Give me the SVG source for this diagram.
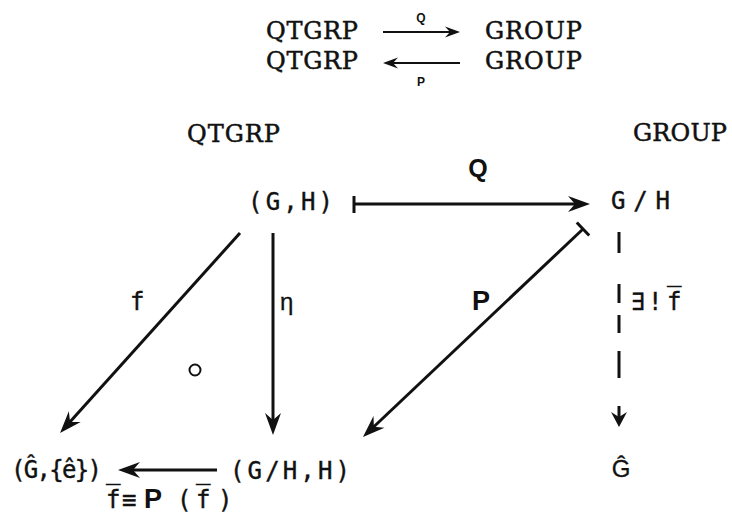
<svg xmlns="http://www.w3.org/2000/svg" width="732" height="518" viewBox="0 0 732 518">
<style>
.serif{font-family:"DejaVu Serif","Liberation Serif",serif;font-size:24px;fill:#111;stroke:#111;stroke-width:0.5}
.mono{font-family:"DejaVu Sans Mono","Liberation Mono",monospace;font-size:24px;fill:#111;stroke:#111;stroke-width:0.4}
.sans{font-family:"Liberation Sans","DejaVu Sans",sans-serif;font-size:24px;fill:#111;stroke:#111;stroke-width:0.3}
.bold{font-family:"Liberation Sans","DejaVu Sans",sans-serif;font-weight:bold;fill:#111}
.ln{stroke:#111;stroke-width:3;fill:none}
.thin{stroke:#111;stroke-width:2;fill:none}
</style>
<defs>
<marker id="ah" markerUnits="userSpaceOnUse" viewBox="-30 -12 34 24" markerWidth="34" markerHeight="24" refX="-8" refY="0" orient="auto">
<path d="M0,0 L-22,-8 L-15,0 L-22,8 Z" fill="#111"/>
</marker>
<marker id="ahs" markerUnits="userSpaceOnUse" viewBox="-20 -8 22 16" markerWidth="22" markerHeight="16" refX="-5" refY="0" orient="auto">
<path d="M0,0 L-15,-5.5 L-10,0 L-15,5.5 Z" fill="#111"/>
</marker>
<marker id="ahd" markerUnits="userSpaceOnUse" viewBox="-20 -10 22 20" markerWidth="22" markerHeight="20" refX="-5" refY="0" orient="auto">
<path d="M0,0 L-15,-8 L-10,0 L-15,8 Z" fill="#111"/>
</marker>
</defs>
<rect width="732" height="518" fill="#fff"/>

<g id="top-functors">
<text class="serif" x="266" y="39" textLength="92">QTGRP</text>
<text class="serif" x="485" y="39" textLength="97">GROUP</text>
<text class="serif" x="266" y="69" textLength="92">QTGRP</text>
<text class="serif" x="485" y="69" textLength="97">GROUP</text>
<line class="thin" x1="383" y1="32" x2="455" y2="32" marker-end="url(#ahs)"/>
<line class="thin" x1="460" y1="63" x2="388" y2="63" marker-end="url(#ahs)"/>
<text class="bold" x="421" y="22" font-size="12" text-anchor="middle">Q</text>
<text class="bold" x="421" y="86" font-size="12" text-anchor="middle">P</text>
</g>

<g id="category-labels">
<text class="serif" x="187" y="142" textLength="93">QTGRP</text>
<text class="serif" x="633" y="141" textLength="94">GROUP</text>
</g>

<g id="node-GH"><text class="mono" x="248" y="210" textLength="85">(G,H)</text></g>
<g id="node-GmodH"><text class="mono" x="611" y="209" textLength="59">G/H</text></g>
<g id="node-Ghat-e"><text class="mono" x="11" y="478" textLength="91">(Ĝ,{ê})</text></g>
<g id="node-GHH"><text class="mono" x="230" y="479" textLength="120">(G/H,H)</text></g>
<g id="node-Ghat"><text class="sans" x="621" y="477" text-anchor="middle">Ĝ</text></g>

<g id="connectors">
<line class="ln" x1="354" y1="204" x2="582" y2="204" marker-end="url(#ah)"/>
<line class="ln" x1="354" y1="196" x2="354" y2="213"/>
<line class="ln" x1="240" y1="233" x2="65.4" y2="427.1" marker-end="url(#ah)"/>
<line class="ln" x1="273" y1="233" x2="273" y2="427" marker-end="url(#ah)"/>
<line class="ln" x1="583" y1="229" x2="368.8" y2="431.5" marker-end="url(#ah)"/>
<line class="ln" x1="589.2" y1="235.5" x2="576.8" y2="222.5"/>
<line class="ln" x1="217" y1="470" x2="126" y2="470" marker-end="url(#ah)"/>
<path class="ln" d="M619,232 V378" stroke-dasharray="21 31 19 12 18 18 27 100"/>
<line class="ln" x1="619" y1="406" x2="619" y2="422" marker-end="url(#ahd)"/>
<circle cx="195" cy="370" r="5.5" fill="none" stroke="#111" stroke-width="2"/>
</g>

<g id="edge-labels">
<text class="bold" x="478" y="177" font-size="25" text-anchor="middle">Q</text>
<text class="mono" x="130" y="310">f</text>
<text class="sans" x="280" y="310">η</text>
<text class="bold" x="472" y="310" font-size="27">P</text>
<text class="mono" y="310"><tspan x="631">∃</tspan><tspan x="648">!</tspan><tspan x="667">f̅</tspan></text>
<text class="mono" y="508"><tspan x="106">f̅</tspan><tspan x="122">≡</tspan><tspan class="bold" x="144" font-size="27" stroke-width="0">P</tspan><tspan x="177">(</tspan><tspan x="196">f̅</tspan><tspan x="218">)</tspan></text>
</g>
</svg>
